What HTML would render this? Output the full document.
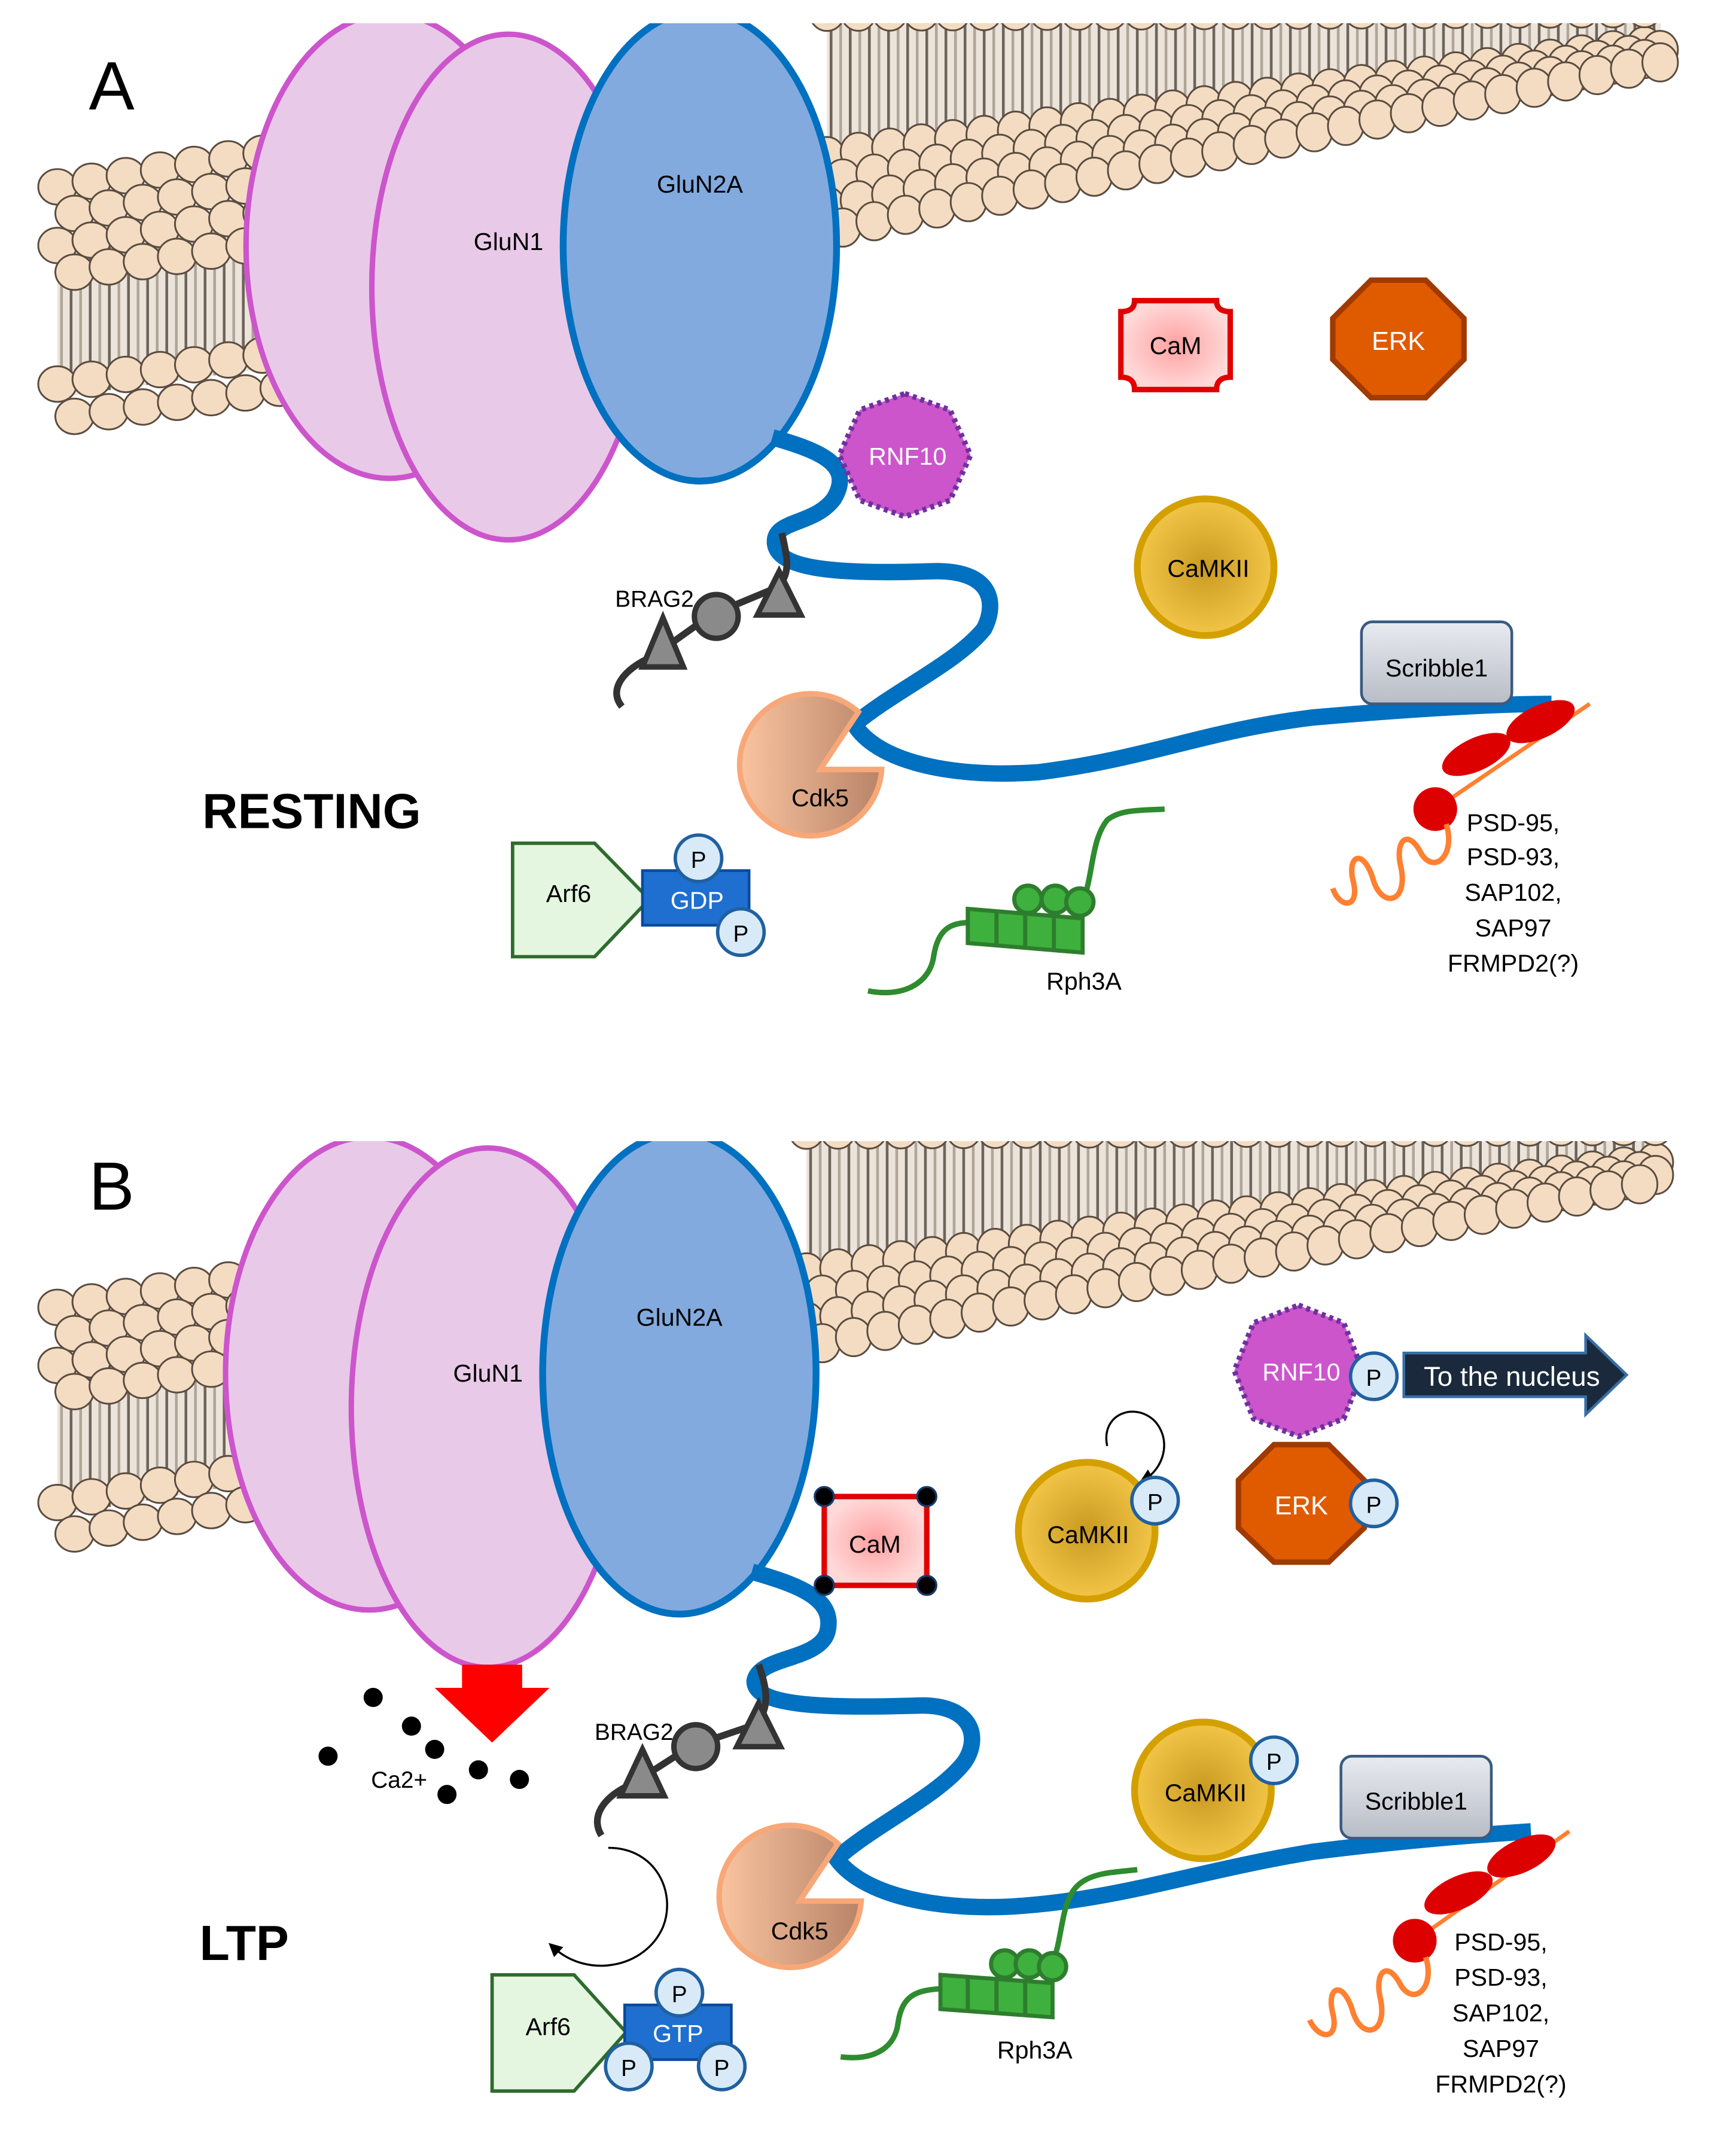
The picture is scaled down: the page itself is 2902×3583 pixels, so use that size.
<!DOCTYPE html>
<html><head><meta charset="utf-8"><style>
html,body{margin:0;padding:0;background:#fff;}
svg{display:block;}
text{font-family:"Liberation Sans",sans-serif;}
</style></head><body>
<svg id="s" xmlns="http://www.w3.org/2000/svg" width="2902" height="3583" viewBox="0 0 1270 1568">
<defs>
<radialGradient id="gold" cx="50%" cy="50%" r="50%"><stop offset="0" stop-color="#c99a20"/><stop offset="1" stop-color="#f2c548"/></radialGradient>
<linearGradient id="peach" x1="0" x2="1"><stop offset="0" stop-color="#fac4a0"/><stop offset="1" stop-color="#b88468"/></linearGradient>
<linearGradient id="gray" x1="0" y1="0" x2="0" y2="1"><stop offset="0" stop-color="#e8ebf0"/><stop offset="1" stop-color="#b8bcc6"/></linearGradient>
<radialGradient id="pink"><stop offset="0" stop-color="#ffa0a0"/><stop offset="1" stop-color="#ffd8d8"/></radialGradient>
<marker id="ah" markerWidth="10" markerHeight="10" refX="5" refY="5" orient="auto" markerUnits="userSpaceOnUse"><path d="M0,0 L10,5 L0,10 z" fill="#000"/></marker>
<clipPath id="cA"><rect x="0" y="17" width="1232" height="800"/></clipPath>
<clipPath id="cB"><rect x="0" y="835" width="1232" height="800"/></clipPath>
</defs>
<g id="memA" clip-path="url(#cA)"></g>
<g id="memB" clip-path="url(#cB)"></g>

<!-- PANEL A -->
<text x="65" y="80" font-size="50">A</text>
<g clip-path="url(#cA)">
<ellipse cx="285" cy="180" rx="105" ry="170" fill="#e9c9e8" stroke="#cc55cc" stroke-width="4"/>
<ellipse cx="372" cy="210" rx="100" ry="185" fill="#e9c9e8" stroke="#cc55cc" stroke-width="4"/>
<ellipse cx="512" cy="180" rx="100" ry="172" fill="#82aade" stroke="#0070c0" stroke-width="5"/>
</g>
<text x="372" y="183" font-size="18" text-anchor="middle">GluN1</text>
<text x="512" y="141" font-size="18" text-anchor="middle">GluN2A</text>
<path d="M565,320 C600,330 625,340 610,365 C595,385 565,380 567,398 C570,418 620,420 680,418 C725,416 730,440 720,460 C700,485 655,505 625,530 C640,555 690,570 760,565 C840,555 880,535 960,525 C1040,518 1100,515 1135,515" fill="none" stroke="#0070c0" stroke-width="12"/>
<polygon points="662,288 695,300 710,333 695,366 662,378 629,366 614,333 629,300" fill="#cc55cc" stroke="#7030a0" stroke-width="4" stroke-dasharray="3,3"/>
<text x="664" y="340" font-size="18" fill="#fff" text-anchor="middle">RNF10</text>
<path d="M830,220 L890,220 Q890,228 900,228 L900,276 Q890,276 890,285 L830,285 Q830,276 820,276 L820,228 Q830,228 830,220 z" fill="url(#pink)" stroke="#e00000" stroke-width="4"/>
<text x="860" y="259" font-size="18" text-anchor="middle">CaM</text>
<polygon points="1003,205 1043,205 1071,233 1071,263 1043,291 1003,291 975,263 975,233" fill="#e05a00" stroke="#a03a00" stroke-width="4"/>
<text x="1023" y="256" font-size="19" fill="#fff" text-anchor="middle">ERK</text>
<circle cx="882" cy="415" r="50" fill="url(#gold)" stroke="#d4a000" stroke-width="5"/>
<text x="884" y="422" font-size="18" text-anchor="middle">CaMKII</text>
<rect x="996" y="455" width="110" height="60" rx="8" fill="url(#gray)" stroke="#3a5a80" stroke-width="2"/>
<text x="1051" y="495" font-size="18" text-anchor="middle">Scribble1</text>
<path d="M455,517 C445,505 455,490 478,480 L520,450 L568,430 C580,420 575,405 572,390" fill="none" stroke="#333" stroke-width="5"/>
<polygon points="485,452 500,488 470,488" fill="#8a8a8a" stroke="#333" stroke-width="4"/>
<circle cx="524" cy="451" r="16" fill="#8a8a8a" stroke="#333" stroke-width="4"/>
<polygon points="570,418 586,450 554,450" fill="#8a8a8a" stroke="#333" stroke-width="4"/>
<text x="450" y="444" font-size="17">BRAG2</text>
<path d="M628,521 A52,52 0 1 0 645,563 L600,563 Z" fill="url(#peach)" stroke="#f8a878" stroke-width="4"/>
<text x="600" y="590" font-size="18" text-anchor="middle">Cdk5</text>
<text x="148" y="606" font-size="36" font-weight="bold">RESTING</text>
<polygon points="375,617 435,617 475,658 435,700 375,700" fill="#e4f5e0" stroke="#2e6b2e" stroke-width="2.5"/>
<text x="416" y="660" font-size="18" text-anchor="middle">Arf6</text>
<rect x="470" y="637" width="78" height="40" fill="#1e6fcf" stroke="#0a4a9a" stroke-width="2"/>
<text x="510" y="665" font-size="18" fill="#fff" text-anchor="middle">GDP</text>
<circle cx="511" cy="628" r="17" fill="#d8eaf8" stroke="#2060a0" stroke-width="2.5"/><text x="511" y="635" font-size="17" text-anchor="middle">P</text>
<circle cx="542" cy="682" r="17" fill="#d8eaf8" stroke="#2060a0" stroke-width="2.5"/><text x="542" y="689" font-size="17" text-anchor="middle">P</text>
<path d="M635,725 C660,730 680,720 683,700 C686,680 695,675 710,675" fill="none" stroke="#2e8b2e" stroke-width="4"/>
<path d="M792,660 C800,640 798,615 810,600 C820,592 835,593 852,592" fill="none" stroke="#2e8b2e" stroke-width="4"/>
<g fill="#3eb03e" stroke="#2e7d2e" stroke-width="3">
<circle cx="752" cy="658" r="10"/><circle cx="772" cy="658" r="10"/><circle cx="790" cy="660" r="10"/>
<polygon points="708,665 792,672 792,697 708,690"/>
</g>
<g stroke="#2e7d2e" stroke-width="3"><line x1="729" y1="667" x2="729" y2="692"/><line x1="750" y1="669" x2="750" y2="694"/><line x1="771" y1="670" x2="771" y2="695"/></g>
<text x="793" y="724" font-size="18" text-anchor="middle">Rph3A</text>
<line x1="1163" y1="515" x2="1050" y2="592" stroke="#ff8030" stroke-width="3"/>
<ellipse cx="1127" cy="528" rx="27" ry="12" transform="rotate(-25 1127 528)" fill="#dd0000"/>
<ellipse cx="1080" cy="552" rx="27" ry="12" transform="rotate(-25 1080 552)" fill="#dd0000"/>
<circle cx="1050" cy="592" r="16" fill="#dd0000"/>
<path d="M1058,603 C1065,625 1050,640 1040,625 C1030,605 1020,615 1025,635 C1030,660 1012,665 1005,645 C998,620 985,625 990,645 C995,665 980,665 975,650" fill="none" stroke="#ff8030" stroke-width="4"/>
<g font-size="18" text-anchor="middle"><text x="1107" y="608">PSD-95,</text><text x="1107" y="633">PSD-93,</text><text x="1107" y="659">SAP102,</text><text x="1107" y="685">SAP97</text><text x="1107" y="711">FRMPD2(?)</text></g>

<!-- PANEL B -->
<text x="65" y="885" font-size="50">B</text>
<g clip-path="url(#cB)">
<ellipse cx="270" cy="1005" rx="105" ry="173" fill="#e9c9e8" stroke="#cc55cc" stroke-width="4"/>
<ellipse cx="357" cy="1030" rx="100" ry="190" fill="#e9c9e8" stroke="#cc55cc" stroke-width="4"/>
<ellipse cx="497" cy="1005" rx="100" ry="176" fill="#82aade" stroke="#0070c0" stroke-width="5"/>
</g>
<text x="357" y="1011" font-size="18" text-anchor="middle">GluN1</text>
<text x="497" y="970" font-size="18" text-anchor="middle">GluN2A</text>
<polygon points="338,1218 382,1218 382,1235 402,1235 360,1275 318,1235 338,1235" fill="#ff0000"/>
<g fill="#000"><circle cx="273" cy="1242" r="7"/><circle cx="301" cy="1263" r="7"/><circle cx="318" cy="1280" r="7"/><circle cx="240" cy="1285" r="7"/><circle cx="350" cy="1295" r="7"/><circle cx="380" cy="1302" r="7"/><circle cx="327" cy="1313" r="7"/></g>
<text x="292" y="1308" font-size="17" text-anchor="middle">Ca2+</text>
<path d="M550,1150 C585,1160 612,1170 605,1195 C598,1215 555,1212 552,1230 C552,1248 600,1250 670,1248 C712,1246 718,1272 705,1290 C685,1315 640,1335 612,1360 C630,1385 680,1398 740,1395 C820,1390 870,1370 960,1355 C1040,1345 1090,1342 1120,1340" fill="none" stroke="#0070c0" stroke-width="12"/>
<rect x="603" y="1095" width="75" height="65" fill="url(#pink)" stroke="#e00000" stroke-width="4"/>
<g fill="#000" stroke="#1a3a6a" stroke-width="1.5"><circle cx="603" cy="1095" r="7"/><circle cx="678" cy="1095" r="7"/><circle cx="603" cy="1160" r="7"/><circle cx="678" cy="1160" r="7"/></g>
<text x="640" y="1136" font-size="18" text-anchor="middle">CaM</text>
<circle cx="795" cy="1120" r="50" fill="url(#gold)" stroke="#d4a000" stroke-width="5"/>
<text x="796" y="1129" font-size="18" text-anchor="middle">CaMKII</text>
<path d="M810,1058 C805,1035 830,1025 845,1040 C858,1055 850,1075 838,1082" fill="none" stroke="#000" stroke-width="1.5" marker-end="url(#ah)"/>
<circle cx="845" cy="1098" r="17" fill="#d8eaf8" stroke="#2060a0" stroke-width="2.5"/><text x="845" y="1105" font-size="17" text-anchor="middle">P</text>
<polygon points="950,955 983,968 997,1003 983,1038 950,1051 917,1038 903,1003 917,968" fill="#cc55cc" stroke="#7030a0" stroke-width="4" stroke-dasharray="3,3"/>
<text x="952" y="1010" font-size="18" fill="#fff" text-anchor="middle">RNF10</text>
<circle cx="1005" cy="1007" r="17" fill="#d8eaf8" stroke="#2060a0" stroke-width="2.5"/><text x="1005" y="1014" font-size="17" text-anchor="middle">P</text>
<polygon points="1027,990 1160,990 1160,977 1190,1006 1160,1035 1160,1022 1027,1022" fill="#1a2a3c" stroke="#3a6ea5" stroke-width="2"/>
<text x="1106" y="1014" font-size="20" fill="#fff" text-anchor="middle">To the nucleus</text>
<polygon points="932,1057 972,1057 998,1083 998,1118 972,1143 932,1143 906,1118 906,1083" fill="#e05a00" stroke="#a03a00" stroke-width="4"/>
<text x="952" y="1108" font-size="19" fill="#fff" text-anchor="middle">ERK</text>
<circle cx="1005" cy="1100" r="17" fill="#d8eaf8" stroke="#2060a0" stroke-width="2.5"/><text x="1005" y="1107" font-size="17" text-anchor="middle">P</text>
<circle cx="880" cy="1310" r="50" fill="url(#gold)" stroke="#d4a000" stroke-width="5"/>
<text x="882" y="1318" font-size="18" text-anchor="middle">CaMKII</text>
<circle cx="932" cy="1288" r="17" fill="#d8eaf8" stroke="#2060a0" stroke-width="2.5"/><text x="932" y="1295" font-size="17" text-anchor="middle">P</text>
<rect x="981" y="1285" width="110" height="60" rx="8" fill="url(#gray)" stroke="#3a5a80" stroke-width="2"/>
<text x="1036" y="1324" font-size="18" text-anchor="middle">Scribble1</text>
<path d="M440,1343 C432,1330 440,1315 463,1305 L505,1278 L552,1262 C565,1250 560,1232 555,1218" fill="none" stroke="#333" stroke-width="5"/>
<polygon points="470,1280 486,1314 454,1314" fill="#8a8a8a" stroke="#333" stroke-width="4"/>
<circle cx="509" cy="1278" r="16" fill="#8a8a8a" stroke="#333" stroke-width="4"/>
<polygon points="555,1246 571,1278 539,1278" fill="#8a8a8a" stroke="#333" stroke-width="4"/>
<text x="435" y="1273" font-size="17">BRAG2</text>
<path d="M445,1352 C480,1352 495,1385 485,1410 C472,1440 430,1448 405,1425" fill="none" stroke="#000" stroke-width="1.5" marker-end="url(#ah)"/>
<path d="M613,1349 A52,52 0 1 0 630,1391 L585,1391 Z" fill="url(#peach)" stroke="#f8a878" stroke-width="4"/>
<text x="585" y="1419" font-size="18" text-anchor="middle">Cdk5</text>
<text x="146" y="1434" font-size="36" font-weight="bold">LTP</text>
<polygon points="360,1445 420,1445 458,1487 420,1530 360,1530" fill="#e4f5e0" stroke="#2e6b2e" stroke-width="2.5"/>
<text x="401" y="1489" font-size="18" text-anchor="middle">Arf6</text>
<rect x="457" y="1467" width="78" height="40" fill="#1e6fcf" stroke="#0a4a9a" stroke-width="2"/>
<text x="496" y="1494" font-size="18" fill="#fff" text-anchor="middle">GTP</text>
<circle cx="497" cy="1458" r="17" fill="#d8eaf8" stroke="#2060a0" stroke-width="2.5"/><text x="497" y="1465" font-size="17" text-anchor="middle">P</text>
<circle cx="460" cy="1512" r="17" fill="#d8eaf8" stroke="#2060a0" stroke-width="2.5"/><text x="460" y="1519" font-size="17" text-anchor="middle">P</text>
<circle cx="528" cy="1512" r="17" fill="#d8eaf8" stroke="#2060a0" stroke-width="2.5"/><text x="528" y="1519" font-size="17" text-anchor="middle">P</text>
<path d="M615,1505 C640,1508 655,1498 657,1480 C660,1460 670,1456 690,1455" fill="none" stroke="#2e8b2e" stroke-width="4"/>
<path d="M770,1437 C778,1415 776,1392 788,1380 C798,1370 815,1370 832,1368" fill="none" stroke="#2e8b2e" stroke-width="4"/>
<g fill="#3eb03e" stroke="#2e7d2e" stroke-width="3">
<circle cx="735" cy="1437" r="10"/><circle cx="753" cy="1437" r="10"/><circle cx="770" cy="1439" r="10"/>
<polygon points="688,1445 770,1451 770,1476 688,1470"/>
</g>
<g stroke="#2e7d2e" stroke-width="3"><line x1="708" y1="1447" x2="708" y2="1472"/><line x1="729" y1="1448" x2="729" y2="1473"/><line x1="750" y1="1450" x2="750" y2="1475"/></g>
<text x="757" y="1506" font-size="18" text-anchor="middle">Rph3A</text>
<line x1="1148" y1="1340" x2="1035" y2="1420" stroke="#ff8030" stroke-width="3"/>
<ellipse cx="1113" cy="1358" rx="27" ry="12" transform="rotate(-25 1113 1358)" fill="#dd0000"/>
<ellipse cx="1067" cy="1385" rx="27" ry="12" transform="rotate(-25 1067 1385)" fill="#dd0000"/>
<circle cx="1035" cy="1420" r="16" fill="#dd0000"/>
<path d="M1043,1432 C1050,1454 1035,1468 1025,1453 C1015,1433 1005,1443 1010,1463 C1015,1488 997,1493 990,1473 C983,1448 970,1453 975,1473 C980,1493 965,1493 958,1478" fill="none" stroke="#ff8030" stroke-width="4"/>
<g font-size="18" text-anchor="middle"><text x="1098" y="1427">PSD-95,</text><text x="1098" y="1453">PSD-93,</text><text x="1098" y="1479">SAP102,</text><text x="1098" y="1505">SAP97</text><text x="1098" y="1531">FRMPD2(?)</text></g>
</svg>
<script>
(function(){
var NS="http://www.w3.org/2000/svg";
function el(g,n,a){var e=document.createElementNS(NS,n);for(var k in a)e.setAttribute(k,a[k]);g.appendChild(e);return e;}
function seg(g,o){
  function T(x){return o.t0+(o.t1-o.t0)*(x-o.x0)/(o.x1-o.x0);}
  function B(x){return o.b0+(o.b1-o.b0)*(x-o.x0)/(o.x1-o.x0);}
  var step=o.rx*2-3;
  var pts=[];
  for(var x=o.x0;x<o.x1;x+=step){var t=T(x),b=B(x),h=b-t;pts.push([x,t+h*o.tailF[0],t+h*o.tailF[1]]);}
  var xe=o.x1;pts.push([xe,T(xe)+(B(xe)-T(xe))*o.tailF[0],T(xe)+(B(xe)-T(xe))*o.tailF[1]]);
  var d="M"+pts.map(function(p){return p[0]+","+p[1];}).join(" L");
  for(var i=pts.length-1;i>=0;i--)d+=" L"+pts[i][0]+","+pts[i][2];
  el(g,"path",{d:d+"Z",fill:"#ece4da"});
  for(var x=o.x0+3;x<=o.x1;x+=7){var t=T(x),b=B(x),h=b-t;
    el(g,"line",{x1:x,y1:t+h*o.tailF[0],x2:x,y2:t+h*o.tailF[1],stroke:(Math.round(x/7)%2?"#6e645a":"#b0a598"),"stroke-width":2});
  }
  function rows(fs){
    fs.forEach(function(f,j){
      var off=(j%2)*(step/2);
      for(var x=o.x0+off;x<=o.x1;x+=step){
        var t=T(x),b=B(x);
        el(g,"ellipse",{cx:x,cy:t+(b-t)*f,rx:o.rx,ry:o.ry,fill:"#f4dcc2",stroke:"#5a4c40","stroke-width":1.3});
      }
    });
  }
  rows(o.botRows);
  rows(o.topRows);
}
var A=document.getElementById("memA"),Bm=document.getElementById("memB");
seg(A,{x0:42,x1:205,t0:125,t1:98,b0:320,b1:298,tailF:[0.3,0.85],topRows:[0.06,0.17,0.28,0.39],botRows:[0.8,0.93],rx:14,ry:13});
seg(A,{x0:605,x1:1215,t0:5,t1:5,b0:187,b1:50,tailF:[0,0.7],topRows:[0.02],botRows:[0.6,0.7,0.8,0.9],rx:13,ry:14});
seg(Bm,{x0:42,x1:205,t0:945,t1:919,b0:1138,b1:1110,tailF:[0.3,0.85],topRows:[0.06,0.17,0.28,0.39],botRows:[0.8,0.93],rx:14,ry:13});
seg(Bm,{x0:590,x1:1215,t0:823,t1:823,b0:1003,b1:868,tailF:[0,0.7],topRows:[0.02],botRows:[0.6,0.7,0.8,0.9],rx:13,ry:14});
})();
</script>
</body></html>
